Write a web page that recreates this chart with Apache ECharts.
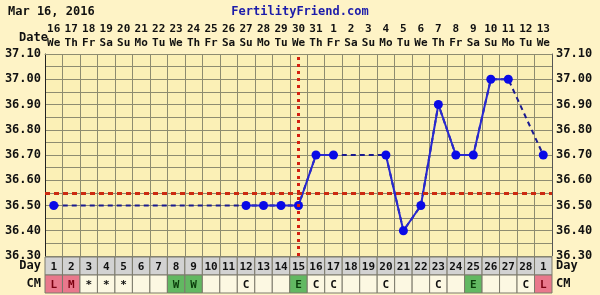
<!DOCTYPE html>
<html><head><meta charset="utf-8">
<script src="https://cdn.jsdelivr.net/npm/echarts@6/dist/echarts.min.js"></script>
<style>html,body{margin:0;padding:0;background:#FEF3C6}#c{width:600px;height:295px}</style>
</head><body><div id="c"></div>
<script>
const dates = ['16','17','18','19','20','21','22','23','24','25','26','27','28','29','30','31','1','2','3','4','5','6','7','8','9','10','11','12','13'];
const weekdays = ['We','Th','Fr','Sa','Su','Mo','Tu','We','Th','Fr','Sa','Su','Mo','Tu','We','Th','Fr','Sa','Su','Mo','Tu','We','Th','Fr','Sa','Su','Mo','Tu','We'];
const cycleDays = ['1','2','3','4','5','6','7','8','9','10','11','12','13','14','15','16','17','18','19','20','21','22','23','24','25','26','27','28','1'];
const temps = [36.50,null,null,null,null,null,null,null,null,null,null,36.50,36.50,36.50,36.50,36.70,36.70,null,null,36.70,36.40,36.50,36.90,36.70,36.70,37.00,37.00,null,36.70];
const cmCodes = ['L','M','*','*','*','','','W','W','','','C','','','E','C','C','','','C','','','C','','E','','','C','L'];
const rowNames = ['Day','CM'];
const coverline = 36.55;
const ovulationIndex = 14;
const tempMin = 36.30, tempMax = 37.10, tempStep = 0.05;

const FONT = '"DejaVu Sans Mono", monospace';
const GRID_C = '#8e8c70';
const cellData = [];
for (let i = 0; i < dates.length; i++) { cellData.push([i, 0]); cellData.push([i, 1]); }

function cmFill(code){
  if (code === 'L' || code === 'M') return '#E9788C';
  if (code === 'W' || code === 'E') return '#62B862';
  return '#FCF8E2';
}
function cmText(code){
  if (code === 'L' || code === 'M') return '#7a0010';
  if (code === 'W' || code === 'E') return '#0b3d0b';
  return '#111';
}
const tempLabel = v => (Math.round(v * 100) % 10 === 0) ? v.toFixed(2) : '';

const chart = echarts.init(document.getElementById('c'), null, {renderer: 'canvas'});
chart.setOption({
  animation: false,
  backgroundColor: '#FEF3C6',
  title: [
    {text: 'Mar 16, 2016', left: 3, top: 1, textStyle: {fontFamily: FONT, fontWeight: 'bold', fontSize: 12, color: '#111'}},
    {text: 'FertilityFriend.com', left: 'center', top: 1, textStyle: {fontFamily: FONT, fontWeight: 'bold', fontSize: 12, color: '#1c1caa'}},
    {text: 'Date', left: 14, top: 27, textStyle: {fontFamily: FONT, fontWeight: 'bold', fontSize: 12, color: '#111'}}
  ],
  grid: [
    {left: 45, right: 48, top: 54, height: 202, backgroundColor: '#FBF0B6', show: true, borderWidth: 0},
    {left: 45, right: 48, top: 257, height: 36}
  ],
  xAxis: [
    {gridIndex: 0, type: 'category', position: 'top', data: dates, boundaryGap: true,
     axisLine: {show: true, lineStyle: {color: GRID_C}}, axisTick: {show: false},
     splitLine: {show: true, interval: 0, lineStyle: {color: GRID_C, width: 1}},
     axisLabel: {interval: 0, margin: 4, fontFamily: FONT, fontWeight: 'bold', fontSize: 11, color: '#111', lineHeight: 14,
       formatter: (v, i) => v + '\n' + weekdays[i]}},
    {gridIndex: 1, type: 'category', data: dates, show: false}
  ],
  yAxis: [
    {gridIndex: 0, type: 'value', min: tempMin, max: tempMax, interval: tempStep, position: 'left',
     axisLine: {show: true, lineStyle: {color: '#222', width: 1}}, axisTick: {show: false},
     splitLine: {show: true, lineStyle: {color: GRID_C, width: 1}},
     axisLabel: {margin: 4, fontFamily: FONT, fontWeight: 'bold', fontSize: 12, color: '#111', formatter: tempLabel}},
    {gridIndex: 0, type: 'value', min: tempMin, max: tempMax, interval: tempStep, position: 'right',
     axisLine: {show: true, lineStyle: {color: '#555', width: 1}}, axisTick: {show: false}, splitLine: {show: false},
     axisLabel: {margin: 4, fontFamily: FONT, fontWeight: 'bold', fontSize: 12, color: '#111', formatter: tempLabel}},
    {gridIndex: 1, type: 'category', data: rowNames, inverse: true, position: 'left',
     axisLine: {show: false}, axisTick: {show: false},
     axisLabel: {margin: 4, fontFamily: FONT, fontWeight: 'bold', fontSize: 12, color: '#111'}},
    {gridIndex: 1, type: 'category', data: rowNames, inverse: true, position: 'right',
     axisLine: {show: false}, axisTick: {show: false},
     axisLabel: {margin: 4, fontFamily: FONT, fontWeight: 'bold', fontSize: 12, color: '#111'}}
  ],
  series: [
    {type: 'line', xAxisIndex: 0, yAxisIndex: 0, data: temps, connectNulls: true, symbol: 'none',
     lineStyle: {color: '#1a1a90', width: 2, type: [5, 4]}, z: 3,
     markLine: {silent: true, symbol: 'none', label: {show: false},
       data: [
         {yAxis: coverline, lineStyle: {color: '#cc2a10', width: 3, type: [5, 4]}},
         {xAxis: ovulationIndex, lineStyle: {color: '#d42010', width: 3, type: [3, 4]}}
       ]}},
    {type: 'line', xAxisIndex: 0, yAxisIndex: 0, data: temps, connectNulls: false, symbol: 'circle', symbolSize: 9, showAllSymbol: true,
     itemStyle: {color: '#0a0ae6'}, lineStyle: {color: '#2828d0', width: 2}, z: 4},
    {type: 'custom', xAxisIndex: 1, yAxisIndex: 2, data: cellData,
     renderItem: function (params, api) {
       const col = api.value(0), row = api.value(1);
       const c = api.coord([col, row]);
       const s = api.size([1, 1]);
       const code = row === 0 ? cycleDays[col] : cmCodes[col];
       const fill = row === 0 ? '#D2D2D2' : cmFill(code);
       const tc = row === 0 ? '#111' : cmText(code);
       return {type: 'group', children: [
         {type: 'rect', shape: {x: c[0] - s[0] / 2, y: c[1] - s[1] / 2, width: s[0], height: s[1]},
          style: {fill: fill, stroke: '#7c7a6c', lineWidth: 1}},
         {type: 'text', style: {text: code, x: c[0], y: c[1] + 1, align: 'center', verticalAlign: 'middle',
          font: 'bold 11px ' + FONT, fill: tc}}
       ]};
     }}
  ]
});
</script></body></html>
